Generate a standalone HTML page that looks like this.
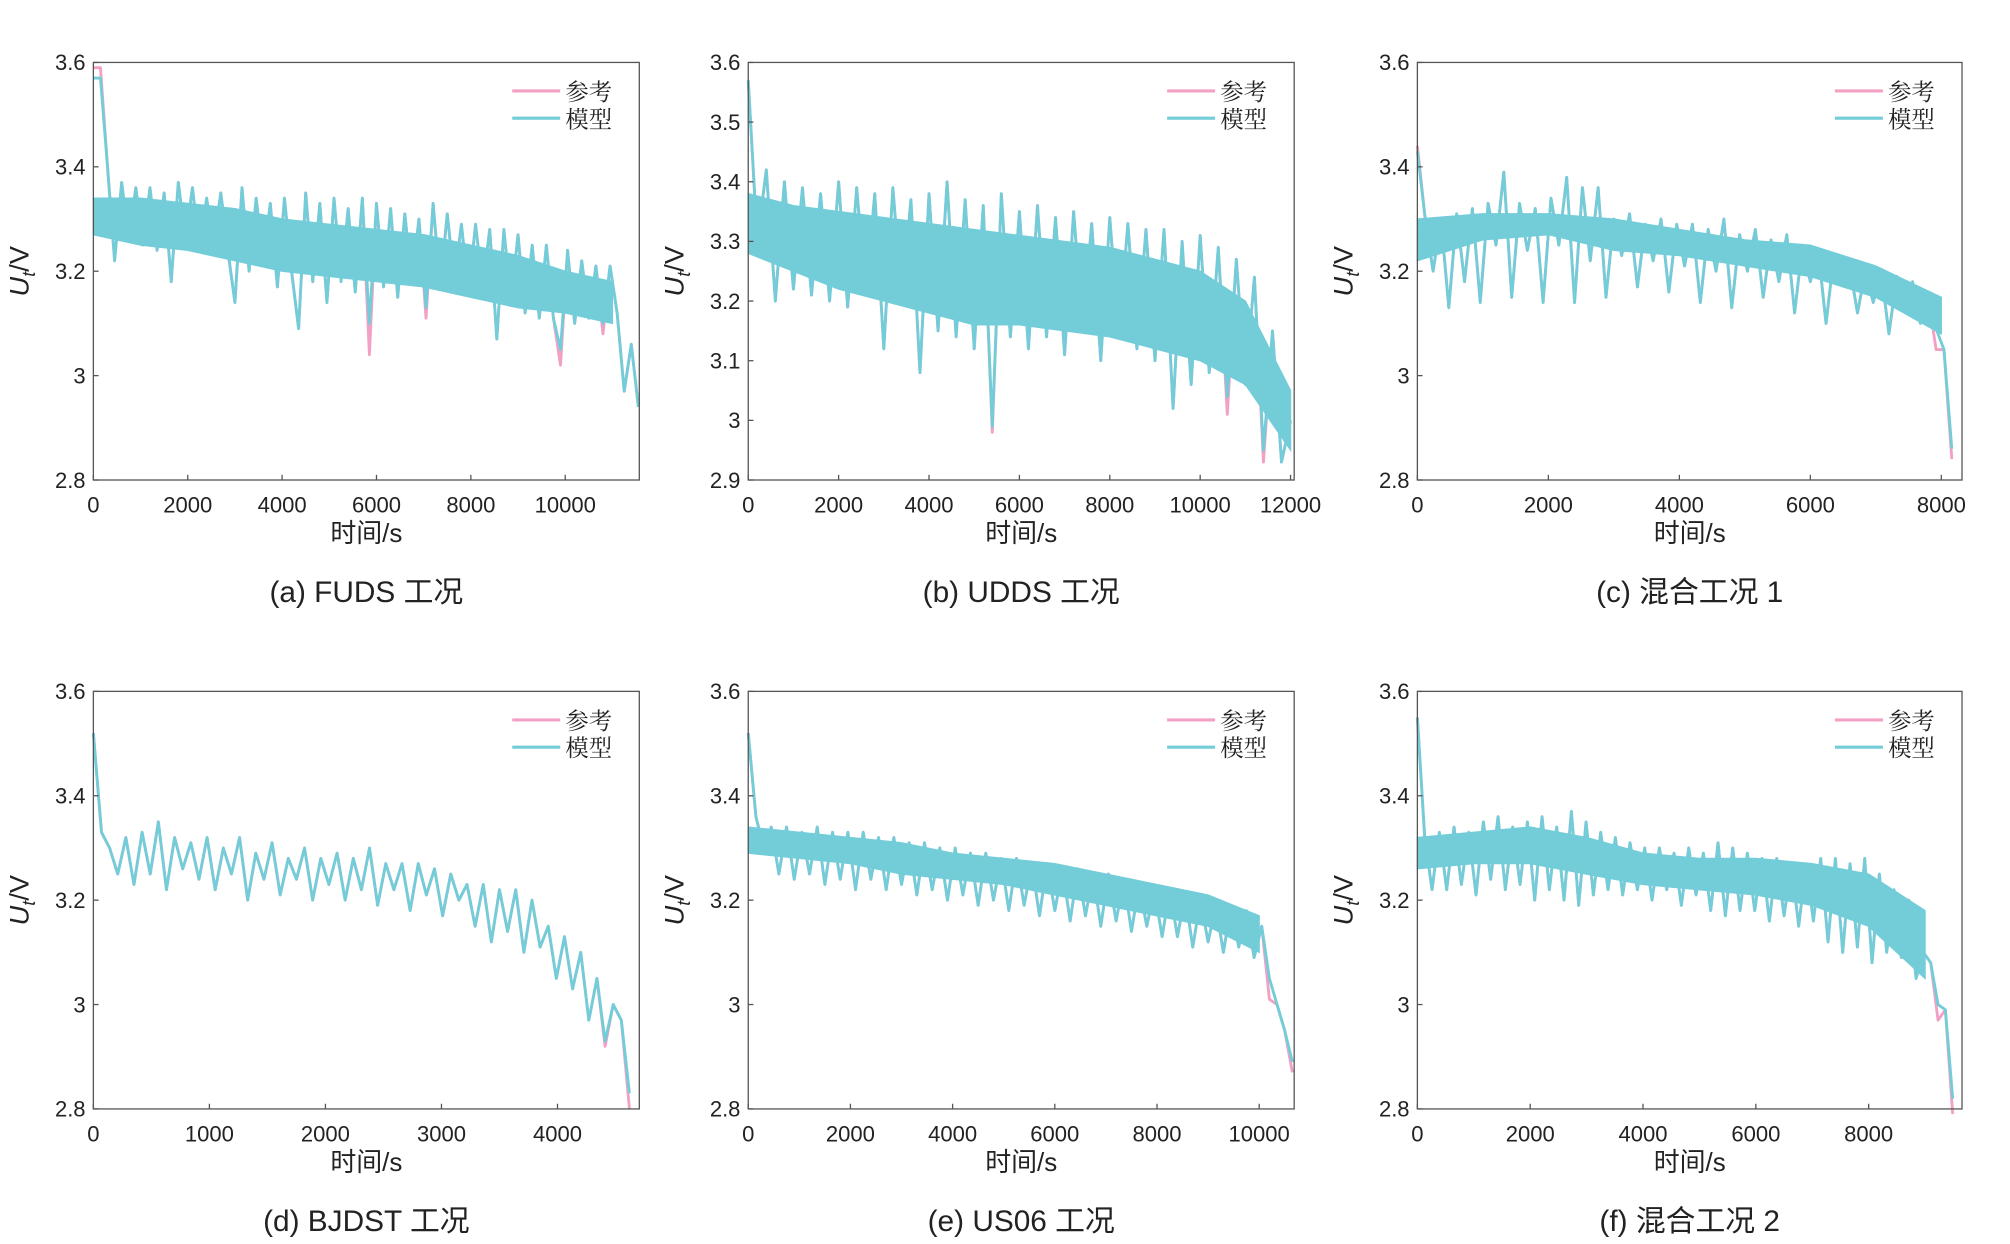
<!DOCTYPE html>
<html><head><meta charset="utf-8">
<style>
html,body{margin:0;padding:0;background:#fff;}
svg{display:block;}
text{font-family:"Liberation Sans","Noto Sans CJK SC",sans-serif;fill:#222;}
</style></head>
<body>
<svg id="fig" width="2010" height="1244" viewBox="0 0 1550 959" xmlns="http://www.w3.org/2000/svg"></svg>
<script>
// ---- data ----
const captions = ["(a) FUDS 工况","(b) UDDS 工况","(c) 混合工况 1","(d) BJDST 工况","(e) US06 工况","(f) 混合工况 2"];
const xMaxes = [11570, 12080, 8316, 4705, 10685, 9655];
const yRanges = [[2.8,3.6],[2.9,3.6],[2.8,3.6],[2.8,3.6],[2.8,3.6],[2.8,3.6]];
const xTicks = [[0,2000,4000,6000,8000,10000],[0,2000,4000,6000,8000,10000,12000],[0,2000,4000,6000,8000],[0,1000,2000,3000,4000],[0,2000,4000,6000,8000,10000],[0,2000,4000,6000,8000]];
const yTicks = [[2.8,3,3.2,3.4,3.6],[2.9,3,3.1,3.2,3.3,3.4,3.5,3.6],[2.8,3,3.2,3.4,3.6],[2.8,3,3.2,3.4,3.6],[2.8,3,3.2,3.4,3.6],[2.8,3,3.2,3.4,3.6]];
const dts = [150, 200, 120, 70, 150, 130];
const modelA = [3.57,3.57,3.40,3.22,3.37,3.26,3.36,3.25,3.36,3.24,3.35,3.18,3.37,3.26,3.36,3.24,3.34,3.25,3.35,3.24,3.14,3.36,3.20,3.34,3.22,3.33,3.17,3.34,3.20,3.09,3.35,3.18,3.33,3.14,3.34,3.18,3.32,3.16,3.34,3.10,3.33,3.17,3.32,3.15,3.31,3.18,3.30,3.13,3.33,3.17,3.31,3.18,3.29,3.16,3.29,3.17,3.28,3.07,3.28,3.14,3.27,3.12,3.25,3.11,3.25,3.11,3.05,3.24,3.10,3.22,3.11,3.21,3.10,3.21,3.12,2.97,3.06,2.94];
const modelB = [3.57,3.30,3.42,3.20,3.40,3.22,3.39,3.21,3.38,3.20,3.40,3.19,3.39,3.21,3.38,3.12,3.39,3.20,3.37,3.08,3.38,3.15,3.40,3.14,3.37,3.12,3.36,2.99,3.38,3.14,3.35,3.12,3.36,3.14,3.34,3.11,3.35,3.15,3.33,3.10,3.34,3.14,3.33,3.12,3.32,3.10,3.32,3.02,3.30,3.06,3.31,3.08,3.29,3.04,3.27,3.06,3.24,2.95,3.15,2.93,3.00];
const modelC = [3.43,3.30,3.20,3.30,3.13,3.31,3.18,3.32,3.14,3.33,3.25,3.39,3.15,3.33,3.24,3.32,3.14,3.34,3.25,3.38,3.14,3.36,3.22,3.36,3.15,3.30,3.23,3.31,3.17,3.29,3.22,3.30,3.16,3.29,3.21,3.29,3.14,3.28,3.20,3.30,3.13,3.27,3.20,3.28,3.15,3.26,3.18,3.27,3.12,3.25,3.18,3.24,3.10,3.23,3.18,3.21,3.12,3.20,3.14,3.20,3.08,3.19,3.14,3.18,3.10,3.15,3.09,3.05,2.86];
const modelD = [3.52,3.33,3.30,3.25,3.32,3.23,3.33,3.25,3.35,3.22,3.32,3.26,3.31,3.24,3.32,3.22,3.30,3.25,3.32,3.20,3.29,3.24,3.31,3.21,3.28,3.24,3.30,3.20,3.28,3.23,3.29,3.20,3.28,3.22,3.30,3.19,3.27,3.22,3.27,3.18,3.27,3.21,3.26,3.17,3.25,3.20,3.23,3.15,3.23,3.12,3.22,3.14,3.22,3.10,3.20,3.11,3.15,3.05,3.13,3.03,3.10,2.97,3.05,2.93,3.00,2.97,2.83];
const modelE = [3.52,3.36,3.30,3.34,3.25,3.34,3.24,3.33,3.25,3.34,3.23,3.33,3.24,3.33,3.22,3.33,3.24,3.32,3.22,3.32,3.23,3.31,3.21,3.31,3.22,3.30,3.20,3.30,3.21,3.29,3.19,3.29,3.20,3.28,3.18,3.28,3.19,3.27,3.17,3.27,3.18,3.26,3.16,3.26,3.17,3.25,3.15,3.25,3.16,3.24,3.14,3.23,3.15,3.22,3.13,3.22,3.13,3.21,3.11,3.20,3.12,3.19,3.10,3.19,3.11,3.18,3.09,3.15,3.05,3.00,2.95,2.89];
const modelF = [3.55,3.32,3.22,3.33,3.22,3.34,3.23,3.33,3.21,3.35,3.24,3.36,3.22,3.34,3.23,3.35,3.20,3.36,3.22,3.34,3.20,3.37,3.19,3.35,3.21,3.33,3.22,3.32,3.21,3.31,3.22,3.30,3.20,3.30,3.22,3.29,3.19,3.30,3.21,3.29,3.18,3.31,3.17,3.30,3.18,3.29,3.18,3.28,3.16,3.28,3.17,3.27,3.15,3.27,3.16,3.28,3.12,3.28,3.10,3.27,3.11,3.28,3.08,3.25,3.10,3.22,3.09,3.20,3.05,3.10,3.08,3.00,2.99,2.82];
const refDipsA = [[0,3.59],[1,3.59],[39,3.04],[47,3.11],[66,3.02],[72,3.08]];
const refDipsB = [[27,2.98],[53,3.01],[57,2.93]];
const refDipsC = [[0,3.44],[66,3.05],[68,2.84]];
const refDipsD = [[63,2.92],[66,2.80]];
const refDipsE = [[68,3.01],[71,2.87]];
const refDipsF = [[71,2.97],[73,2.79]];
// dense core band envelopes (sampled every 1000 s)
const envStep = 1000;
const bandUpA = [3.34,3.34,3.33,3.32,3.30,3.29,3.28,3.27,3.25,3.23,3.20,3.18];
const bandLoA = [3.27,3.25,3.24,3.22,3.20,3.19,3.18,3.17,3.15,3.13,3.12,3.10];
const bandUpB = [3.38,3.36,3.35,3.34,3.33,3.32,3.31,3.30,3.29,3.27,3.25,3.20,3.05];
const bandLoB = [3.28,3.25,3.22,3.20,3.18,3.16,3.16,3.15,3.14,3.12,3.10,3.06,2.95];
const bandUpC = [3.30,3.31,3.31,3.30,3.28,3.26,3.25,3.21,3.15];
const bandLoC = [3.22,3.26,3.27,3.24,3.23,3.21,3.19,3.15,3.08];
const bandUpD = [];
const bandLoD = [];
const bandUpE = [3.34,3.33,3.32,3.31,3.29,3.28,3.27,3.25,3.23,3.21,3.17];
const bandLoE = [3.29,3.28,3.27,3.25,3.24,3.23,3.21,3.19,3.17,3.15,3.10];
const bandUpF = [3.32,3.33,3.34,3.32,3.29,3.28,3.28,3.27,3.25,3.18];
const bandLoF = [3.26,3.27,3.27,3.25,3.23,3.22,3.21,3.19,3.15,3.05];
const models = [modelA, modelB, modelC, modelD, modelE, modelF];
const refDips = [refDipsA, refDipsB, refDipsC, refDipsD, refDipsE, refDipsF];
const bandUps = [bandUpA, bandUpB, bandUpC, bandUpD, bandUpE, bandUpF];
const bandLos = [bandLoA, bandLoB, bandLoC, bandLoD, bandLoE, bandLoF];

// ---- layout ----
const svg = document.getElementById('fig');
const NS = 'http://www.w3.org/2000/svg';
const colsX = [[72,493],[577,998],[1093,1513]];
const rowsY = [[48,370],[533,855]];
const PINK = '#f2a0c4', CYAN = '#72cdd9';
function mk(tag, attrs, parent){const e=document.createElementNS(NS,tag);for(const k in attrs)e.setAttribute(k,attrs[k]);(parent||svg).appendChild(e);return e;}

for(let p=0;p<6;p++){
  const [L,R]=colsX[p%3], [T,B]=rowsY[Math.floor(p/3)];
  const g=mk('g',{});
  
  
  const [y0,y1]=yRanges[p];
  const sx=v=>L+(v/xMaxes[p])*(R-L);
  const sy=v=>B-(v-y0)/(y1-y0)*(B-T);
  const model=models[p];
  const ref=model.slice();
  refDips[p].forEach(d=>{ref[d[0]]=d[1];});
  const toPts=arr=>arr.map((v,i)=>sx(i*dts[p]).toFixed(2)+','+sy(v).toFixed(2)).join(' ');
  const refLine=mk('polyline',{points:toPts(ref),fill:'none',stroke:PINK,'stroke-width':2.2,'stroke-linejoin':'round'},g);
  
  
  const up=bandUps[p], lo=bandLos[p];
  if(up.length){
    const pts=up.map((v,i)=>sx(i*envStep).toFixed(2)+','+sy(v).toFixed(2));
    for(let i=lo.length-1;i>=0;i--) pts.push(sx(i*envStep).toFixed(2)+','+sy(lo[i]).toFixed(2));
    const band=mk('polygon',{points:pts.join(' '),fill:CYAN,stroke:CYAN,'stroke-width':1},g);
    
    
  }
  const modLine=mk('polyline',{points:toPts(model),fill:'none',stroke:CYAN,'stroke-width':2.2,'stroke-linejoin':'round'},g);
  
  
  const box=mk('rect',{x:L,y:T,width:R-L,height:B-T,fill:'none',stroke:'#555','stroke-width':1},g);
  
  
  xTicks[p].forEach(t=>{
    const x=sx(t);
    mk('line',{x1:x,y1:B,x2:x,y2:B-4,stroke:'#555','stroke-width':1},g);
    const tx=mk('text',{x:x,y:B+25,'font-size':17,'text-anchor':'middle'},g);
    tx.textContent=t;
    
    
  });
  yTicks[p].forEach(t=>{
    const y=sy(t);
    mk('line',{x1:L,y1:y,x2:L+4,y2:y,stroke:'#555','stroke-width':1},g);
    const ty=mk('text',{x:L-6,y:y+6,'font-size':17,'text-anchor':'end'},g);
    ty.textContent=String(Number(t.toFixed(1)));
    
    
  });
  const xt=mk('text',{x:(L+R)/2,y:B+48,'font-size':20,'text-anchor':'middle'},g);
  xt.textContent='时间/s';
  
  
  const yt=mk('text',{transform:`translate(${L-50},${(T+B)/2}) rotate(-90)`,'font-size':21,'text-anchor':'middle'},g);
  yt.innerHTML='<tspan font-style="italic">U</tspan><tspan font-style="italic" font-size="14" dy="5">t</tspan><tspan dy="-5">/V</tspan>';
  
  
  const lg=mk('g',{},g);
  
  
  [['参考',PINK,22],['模型',CYAN,43]].forEach(([lab,c,dy])=>{
    mk('line',{x1:R-98,y1:T+dy,x2:R-61,y2:T+dy,stroke:c,'stroke-width':2.4},lg);
    const lt=mk('text',{x:R-57,y:T+dy+7,'font-size':18,style:'font-family:"Noto Serif CJK SC",serif'},lg);
    lt.textContent=lab;
    
    
  });
  const cap=mk('text',{x:(L+R)/2,y:B+94,'font-size':23,'text-anchor':'middle'},g);
  cap.textContent=captions[p];
  
  
}
</script>
</body></html>
